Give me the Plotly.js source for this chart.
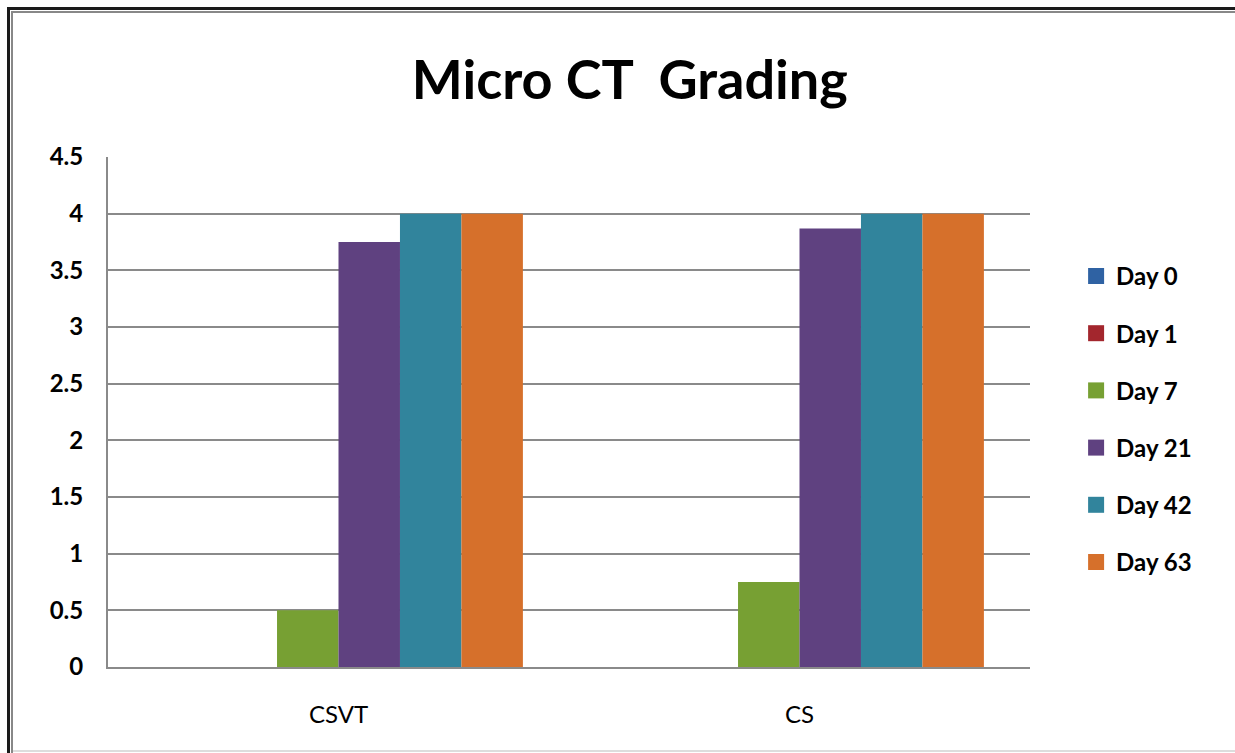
<!DOCTYPE html>
<html>
<head>
<meta charset="utf-8">
<script src="https://cdn.plot.ly/plotly-3.0.1.min.js"></script>
<style>
  html, body { margin:0; padding:0; background:#fff; overflow:hidden; }
  #wrap { position:relative; width:1235px; height:753px; overflow:hidden; }
  #chart { position:absolute; left:0; top:0; width:1235px; height:753px; }
  .ln { position:absolute; pointer-events:none; }
</style>
</head>
<body>
<div id="wrap">
  <div id="chart"></div>
  <div class="ln" style="left:7px; top:7px; width:1228px; height:3px; background:#1a1a1a;"></div>
  <div class="ln" style="left:11px; top:11px; width:1224px; height:2px; background:#888;"></div>
  <div class="ln" style="left:7px; top:7px; width:3px; height:746px; background:#1a1a1a;"></div>
  <div class="ln" style="left:11px; top:11px; width:2px; height:742px; background:#888;"></div>
  <div class="ln" style="left:13px; top:750px; width:1222px; height:2px; background:#ddd;"></div>
</div>
<script>
const categories = ["CSVT", "CS"];
const seriesNames = ["Day 0", "Day 1", "Day 7", "Day 21", "Day 42", "Day 63"];
const day0 = [0, 0];
const day1 = [0, 0];
const day7 = [0.5, 0.75];
const day21 = [3.75, 3.87];
const day42 = [4, 4];
const day63 = [4, 4];
const seriesValues = [day0, day1, day7, day21, day42, day63];
const colors = ["#2F62A3", "#A3262D", "#77A033", "#5F4180", "#31849C", "#D6702B"];
const yTicks = [0, 0.5, 1, 1.5, 2, 2.5, 3, 3.5, 4, 4.5];

const barTraces = seriesNames.map((name, i) => ({
  type: "bar",
  name: name,
  x: categories,
  y: seriesValues[i],
  showlegend: false,
  marker: { color: colors[i], line: { width: 0 } },
  hoverinfo: "skip"
}));

// legend-only entries with larger square swatches
const legendTraces = seriesNames.map((name, i) => ({
  type: "scatter",
  mode: "markers",
  name: name,
  x: [null],
  y: [null],
  legendgroup: "g" + i,
  marker: { symbol: "square", size: 19, color: colors[i] },
  hoverinfo: "skip"
}));

const layout = {
  width: 1235,
  height: 753,
  paper_bgcolor: "#fff",
  plot_bgcolor: "#fff",
  margin: { l: 108, r: 205, t: 157, b: 86 },
  barmode: "group",
  bargap: 0.2,
  bargroupgap: 0,
  title: {
    text: "<b>Micro CT  Grading</b>",
    font: { family: "Lato, 'Open Sans', sans-serif", size: 54, color: "#000" },
    x: 0.51, xref: "container", xanchor: "center",
    y: 0.893, yref: "container", yanchor: "middle"
  },
  font: { family: "Lato, 'Open Sans', sans-serif", color: "#000" },
  xaxis: {
    type: "category",
    showgrid: false,
    showline: true,
    linecolor: "#8a8a8a",
    linewidth: 2,
    ticks: "",
    ticklabelstandoff: 25,
    tickfont: { size: 24, color: "#000" },
    zeroline: false
  },
  yaxis: {
    range: [0, 4.5],
    tickvals: yTicks,
    ticktext: yTicks.map(String),
    showgrid: true,
    gridcolor: "#8a8a8a",
    gridwidth: 2,
    showline: true,
    linecolor: "#8a8a8a",
    linewidth: 2,
    zeroline: false,
    ticks: "",
    ticklabelstandoff: 18,
    tickfont: { size: 24, color: "#000", weight: "bold" }
  },
  showlegend: true,
  legend: {
    x: 1.05, xanchor: "left",
    y: 0.81, yanchor: "top",
    font: { size: 24, color: "#000", weight: "bold" },
    tracegroupgap: 23,
    itemwidth: 30,
    bgcolor: "rgba(0,0,0,0)"
  }
};

Plotly.newPlot("chart", barTraces.concat(legendTraces), layout, { displayModeBar: false, staticPlot: true });
</script>
</body>
</html>
